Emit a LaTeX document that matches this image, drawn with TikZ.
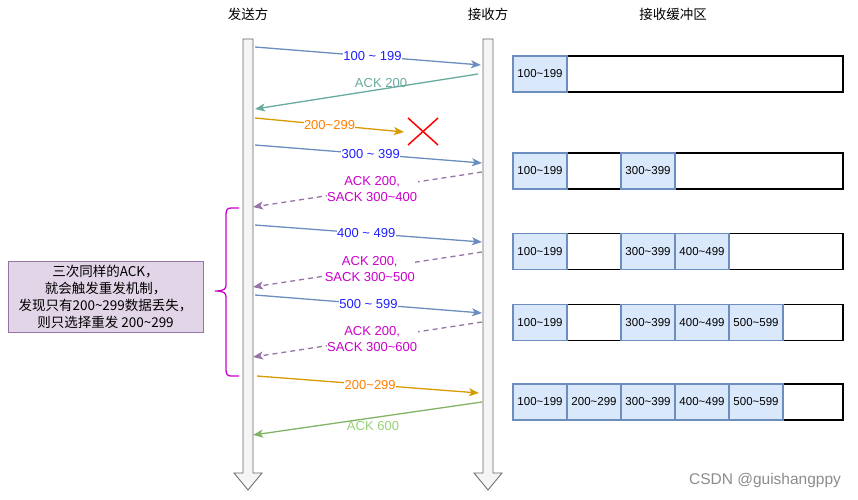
\documentclass[tikz,border=0pt]{standalone}
\usepackage{fontspec}
\setmainfont{Liberation Sans}
\newfontfamily\cjk{Noto Sans CJK SC}
\usetikzlibrary{arrows.meta}
\definecolor{lineblue}{HTML}{6C8EBF}
\definecolor{txtblue}{HTML}{2020FF}
\definecolor{teal}{HTML}{67AB9F}
\definecolor{lineorange}{HTML}{D79B00}
\definecolor{txtorange}{HTML}{FF8000}
\definecolor{linepurple}{HTML}{9673A6}
\definecolor{txtmag}{HTML}{CC00CC}
\definecolor{linegreen}{HTML}{82B366}
\definecolor{txtgreen}{HTML}{97D077}
\definecolor{cellfill}{HTML}{DAE8FC}
\definecolor{boxfill}{HTML}{E1D5E7}
\definecolor{barfill}{HTML}{F5F5F5}
\definecolor{bardraw}{HTML}{666666}
\tikzset{
  msg/.style={line width=1.3pt,-{Stealth[length=10pt,width=8pt,inset=2.5pt]}},
  dmsg/.style={msg,dash pattern=on 5pt off 4pt},
  lbl/.style={font=\fontsize{13}{15}\selectfont,fill=white,inner sep=0.5pt},
  lbl2/.style={font=\fontsize{13}{16}\selectfont,fill=white,inner sep=0.5pt,align=center},
  cell/.style={draw=lineblue,fill=cellfill,line width=1.3pt,minimum width=54pt,minimum height=36pt,inner sep=0pt,font=\fontsize{11.5}{13}\selectfont},
  buf/.style={draw=black,line width=1.5pt},
  lifeline/.style={draw=bardraw,fill=barfill,line width=0.8pt},
  title/.style={font=\cjk\fontsize{13.5}{15}\selectfont}
}
\begin{document}
\begin{tikzpicture}[x=1pt,y=-1pt]
\useasboundingbox (0,0) rectangle (858,499);
% lifelines
\draw[lifeline] (243,39) -- (253,39) -- (253,473) -- (262,473) -- (248,490) -- (234,473) -- (243,473) -- cycle;
\draw[lifeline] (483,39) -- (493,39) -- (493,473) -- (502,473) -- (488,490) -- (474,473) -- (483,473) -- cycle;
% titles
\node[title] (tsend) at (248,14) {发送方};
\node[title] (trecv) at (488,14) {接收方};
\node[title] (tbuf) at (673,14) {接收缓冲区};
% endpoints
\coordinate (s1) at (255,47);  \coordinate (r1) at (481,65);
\coordinate (r2) at (478,74);  \coordinate (s2) at (255,109);
\coordinate (s3) at (255,118); \coordinate (x3) at (404,132);
\coordinate (s4) at (255,145); \coordinate (r4) at (482,163);
\coordinate (r5) at (482,172); \coordinate (s5) at (253,207);
\coordinate (s6) at (255,225); \coordinate (r6) at (482,242);
\coordinate (r7) at (482,252); \coordinate (s7) at (253,287);
\coordinate (s8) at (255,295); \coordinate (r8) at (482,313);
\coordinate (r9) at (482,322); \coordinate (s9) at (253,357);
\coordinate (s10) at (257,376); \coordinate (r10) at (479,393);
\coordinate (r11) at (482,402); \coordinate (s11) at (253,435);
% messages
\draw[msg,lineblue] (s1) -- node[lbl,text=txtblue,pos=.52] {100 \char`~{} 199} (r1);
\draw[msg,teal] (r2) -- node[lbl,text=teal,pos=.435,above,fill=none,inner sep=1pt] {ACK 200} (s2);
\draw[msg,lineorange] (s3) -- node[lbl,text=txtorange,pos=.5] {200\char`~299} (x3);
\draw[msg,lineblue] (s4) -- node[lbl,text=txtblue,pos=.51] {300 \char`~{} 399} (r4);
\draw[dmsg,linepurple] (r5) -- node[lbl2,text=txtmag,pos=.48] {ACK 200,\\SACK 300\char`~400} (s5);
\draw[msg,lineblue] (s6) -- node[lbl,text=txtblue,pos=.49] {400 \char`~{} 499} (r6);
\draw[dmsg,linepurple] (r7) -- node[lbl2,text=txtmag,pos=.49] {ACK 200,\\SACK 300\char`~500} (s7);
\draw[msg,lineblue] (s8) -- node[lbl,text=txtblue,pos=.5] {500 \char`~{} 599} (r8);
\draw[dmsg,linepurple] (r9) -- node[lbl2,text=txtmag,pos=.48] {ACK 200,\\SACK 300\char`~600} (s9);
\draw[msg,lineorange] (s10) -- node[lbl,text=txtorange,pos=.51] {200\char`~299} (r10);
\draw[msg,linegreen] (r11) -- node[lbl,text=txtgreen,pos=.476,below,fill=none,inner sep=3pt] {ACK 600} (s11);
% red cross
\draw[red,line width=1.5pt] (408,118) -- (438,145) (438,118) -- (408,145);
% brace
\draw[txtmag,line width=1.3pt] (239,208) -- (231,208) .. controls (227.5,208) and (226,210) .. (226,214) -- (226,285)
  .. controls (226,289) and (224,291) .. (215,291) .. controls (224,291) and (226,293) .. (226,297) -- (226,370)
  .. controls (226,374) and (227.5,376) .. (231,376) -- (239,376);
% note box
\node[draw=linepurple,fill=boxfill,line width=1pt,minimum width=195pt,minimum height=71pt,inner sep=0pt,align=center,
  font=\cjk\fontsize{13.5}{17}\selectfont] (note) at (105.5,296.5)
  {三次同样的ACK，\\就会触发重发机制，\\发现只有200\char`~299数据丢失，\\则只选择重发 200\char`~299};
% buffers
\foreach \r/\y in {1/74,2/171,3/251.5,4/322.5,5/402}{
  \draw[buf] (513,\y-18) rectangle (843,\y+18);
}
\node[cell] (b1a) at (540,74) {100\char`~199};
\node[cell] (b2a) at (540,171) {100\char`~199};
\node[cell] (b2c) at (648,171) {300\char`~399};
\node[cell] (b3a) at (540,251.5) {100\char`~199};
\node[cell] (b3c) at (648,251.5) {300\char`~399};
\node[cell] (b3d) at (702,251.5) {400\char`~499};
\node[cell] (b4a) at (540,322.5) {100\char`~199};
\node[cell] (b4c) at (648,322.5) {300\char`~399};
\node[cell] (b4d) at (702,322.5) {400\char`~499};
\node[cell] (b4e) at (756,322.5) {500\char`~599};
\node[cell] (b5a) at (540,402) {100\char`~199};
\node[cell] (b5b) at (594,402) {200\char`~299};
\node[cell] (b5c) at (648,402) {300\char`~399};
\node[cell] (b5d) at (702,402) {400\char`~499};
\node[cell] (b5e) at (756,402) {500\char`~599};
% watermark
\node[text=black!45,font=\fontsize{15.5}{17}\selectfont] (wm) at (765,480) {CSDN @guishangppy};
\end{tikzpicture}
\end{document}
